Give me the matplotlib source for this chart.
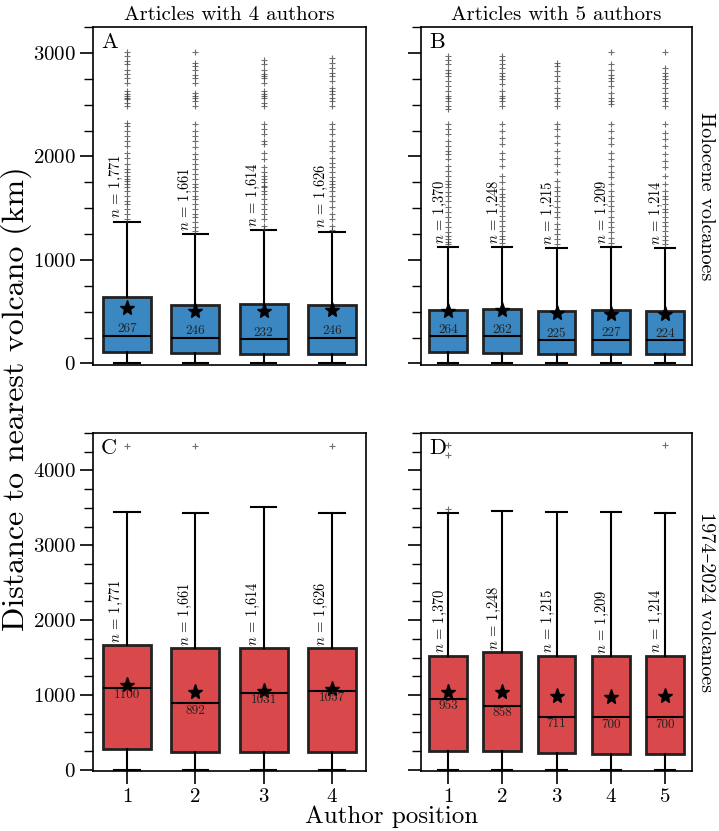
import matplotlib
matplotlib.use("Agg")
import matplotlib.pyplot as plt
from matplotlib.ticker import MultipleLocator

plt.rcParams["font.family"] = ["cmr10", "DejaVu Serif"]
plt.rcParams["mathtext.fontset"] = "cm"
plt.rcParams["axes.formatter.use_mathtext"] = True
plt.rcParams["axes.unicode_minus"] = False

# author positions and sample sizes
pos4 = [1, 2, 3, 4]
pos5 = [1, 2, 3, 4, 5]
n4 = ["1,771", "1,661", "1,614", "1,626"]
n5 = ["1,370", "1,248", "1,215", "1,209", "1,214"]

# Holocene volcanoes, 4 authors
med_h4 = [267, 246, 232, 246]
q1_h4 = [113, 97, 90, 90]
q3_h4 = [639, 565, 577, 565]
mean_h4 = [539, 506, 506, 516]
whi_h4 = [1371, 1252, 1290, 1274]
lo_h4 = [5, 5, 5, 5]
fl_h4 = [
    [3009, 2968, 2926, 2888, 2839, 2798, 2759, 2711, 2631, 2599, 2583, 2567, 2551, 2519, 2487,
     2326, 2294, 2246, 2198, 2150, 2102, 2037, 1989, 1925, 1877, 1845, 1813, 1781, 1765, 1733,
     1701, 1669, 1620, 1572, 1540, 1492, 1444, 1400],
    [3009, 2904, 2871, 2839, 2791, 2759, 2711, 2615, 2583, 2567, 2535, 2487, 2310, 2246, 2198,
     2150, 2086, 2021, 1973, 1925, 1877, 1829, 1781, 1733, 1701, 1669, 1620, 1588, 1540, 1492,
     1444, 1412, 1364, 1316, 1284],
    [2936, 2888, 2839, 2798, 2775, 2759, 2711, 2631, 2599, 2583, 2567, 2519, 2487, 2310, 2262,
     2214, 2150, 2118, 2037, 1973, 1893, 1845, 1813, 1781, 1749, 1717, 1701, 1669, 1636, 1588,
     1540, 1492, 1444, 1396, 1332, 1300],
    [2952, 2904, 2855, 2807, 2775, 2727, 2663, 2631, 2599, 2567, 2535, 2487, 2310, 2262, 2214,
     2150, 2102, 2054, 1989, 1941, 1893, 1845, 1797, 1765, 1733, 1701, 1669, 1620, 1572, 1508,
     1444, 1396, 1332, 1290],
]

# Holocene volcanoes, 5 authors
med_h5 = [264, 262, 225, 227, 224]
q1_h5 = [112, 103, 93, 93, 87]
q3_h5 = [519, 526, 510, 519, 510]
mean_h5 = [503, 513, 487, 481, 481]
whi_h5 = [1128, 1128, 1112, 1128, 1112]
lo_h5 = [5, 5, 5, 5, 5]
fl_h5 = [
    [2968, 2936, 2888, 2839, 2807, 2775, 2727, 2679, 2631, 2583, 2567, 2535, 2487, 2455, 2310,
     2262, 2214, 2150, 2102, 2054, 2021, 1973, 1909, 1861, 1813, 1765, 1733, 1701, 1652, 1620,
     1572, 1508, 1460, 1412, 1364, 1316, 1267, 1235, 1200, 1170, 1150],
    [2968, 2936, 2888, 2855, 2807, 2775, 2743, 2695, 2631, 2583, 2567, 2535, 2487, 2310, 2246,
     2182, 2118, 2037, 1973, 1909, 1813, 1749, 1685, 1636, 1604, 1572, 1524, 1476, 1428, 1380,
     1332, 1284, 1235, 1200, 1160],
    [2904, 2871, 2823, 2775, 2727, 2663, 2615, 2567, 2535, 2487, 2310, 2262, 2198, 2134, 2054,
     1989, 1925, 1845, 1765, 1701, 1669, 1620, 1572, 1508, 1460, 1412, 1348, 1300, 1251, 1200,
     1150],
    [3009, 2888, 2839, 2791, 2759, 2727, 2679, 2615, 2567, 2535, 2503, 2310, 2246, 2182, 2118,
     2037, 1973, 1909, 1845, 1797, 1733, 1669, 1620, 1572, 1524, 1476, 1412, 1364, 1316, 1267,
     1210, 1160],
    [3009, 2855, 2807, 2775, 2743, 2711, 2663, 2615, 2567, 2535, 2487, 2310, 2230, 2166, 2102,
     2021, 1957, 1893, 1813, 1733, 1669, 1620, 1588, 1540, 1492, 1460, 1412, 1364, 1332, 1284,
     1235, 1190, 1150],
]

# 1974-2024 volcanoes, 4 authors
med_r4 = [1100, 892, 1031, 1057]
q1_r4 = [276, 240, 240, 240]
q3_r4 = [1671, 1631, 1631, 1631]
mean_r4 = [1129, 1040, 1053, 1076]
whi_r4 = [3449, 3431, 3511, 3431]
lo_r4 = [5, 5, 5, 5]
fl_r4 = [[4320], [4320], [], [4320]]

# 1974-2024 volcanoes, 5 authors
med_r5 = [953, 858, 711, 700, 700]
q1_r5 = [246, 246, 219, 210, 210]
q3_r5 = [1527, 1571, 1527, 1518, 1527]
mean_r5 = [1036, 1036, 991, 969, 982]
whi_r5 = [3438, 3460, 3446, 3446, 3438]
lo_r5 = [5, 5, 5, 5, 5]
fl_r5 = [[4340, 4205, 3480], [], [], [], [4340]]

blue = "#3a87c2"
red = "#d9484a"


def make_stats(med, q1, q3, mean, whi, lo, fl):
    stats = []
    for i in range(len(med)):
        stats.append(dict(med=med[i], q1=q1[i], q3=q3[i], mean=mean[i],
                          whishi=whi[i], whislo=lo[i], fliers=fl[i]))
    return stats


def draw_panel(ax, stats, pos, ns, color, letter, top_row):
    ax.bxp(stats, positions=pos, widths=0.7, showmeans=True, patch_artist=True,
           boxprops=dict(facecolor=color, edgecolor="#222222", linewidth=2.0),
           medianprops=dict(color="black", linewidth=1.5),
           whiskerprops=dict(color="black", linewidth=1.5),
           capprops=dict(color="black", linewidth=1.5),
           capwidths=0.37,
           meanprops=dict(marker="*", markerfacecolor="black", markeredgecolor="black",
                          markersize=11),
           flierprops=dict(marker="+", markeredgecolor="#333333", alpha=0.7,
                           markersize=5, markeredgewidth=0.8))
    for p, s, n in zip(pos, stats, ns):
        if top_row:
            ax.text(p - 0.15, s["whishi"] + 30, r"$n$ = " + n, rotation=90,
                    ha="center", va="bottom", fontsize=10.5)
            ax.text(p, s["med"] + 5, str(s["med"]), ha="center", va="bottom", fontsize=9.5,
                    color="#222222")
        else:
            ax.text(p - 0.15, s["q3"] + 30, r"$n$ = " + n, rotation=90,
                    ha="center", va="bottom", fontsize=10.5)
            ax.text(p, s["med"] - 20, str(s["med"]), ha="center", va="top", fontsize=9.5,
                    color="#222222")
    ax.text(0.03, 0.985, letter, transform=ax.transAxes, ha="left", va="top", fontsize=16)
    ax.set_xlim(0.5, len(pos) + 0.5)
    ax.set_xticks(pos)
    ax.set_xticklabels([str(p) for p in pos])
    ax.yaxis.set_minor_locator(MultipleLocator(250))
    ax.tick_params(axis="both", which="major", direction="out", length=9.5, width=1.2,
                   labelsize=15, pad=3)
    ax.tick_params(axis="y", which="minor", direction="out", length=6.5, width=1.0)
    for sp in ax.spines.values():
        sp.set_linewidth(1.2)


fig = plt.figure(figsize=(7.19, 8.31), dpi=100)
axA = fig.add_axes([93 / 719, 1 - 365 / 831, 273 / 719, 338 / 831])
axB = fig.add_axes([421 / 719, 1 - 365 / 831, 271 / 719, 338 / 831], sharey=axA)
axC = fig.add_axes([93 / 719, 1 - 771 / 831, 273 / 719, 338 / 831])
axD = fig.add_axes([421 / 719, 1 - 771 / 831, 271 / 719, 338 / 831], sharey=axC)

draw_panel(axA, make_stats(med_h4, q1_h4, q3_h4, mean_h4, whi_h4, lo_h4, fl_h4), pos4, n4,
           blue, "A", True)
draw_panel(axB, make_stats(med_h5, q1_h5, q3_h5, mean_h5, whi_h5, lo_h5, fl_h5), pos5, n5,
           blue, "B", True)
draw_panel(axC, make_stats(med_r4, q1_r4, q3_r4, mean_r4, whi_r4, lo_r4, fl_r4), pos4, n4,
           red, "C", False)
draw_panel(axD, make_stats(med_r5, q1_r5, q3_r5, mean_r5, whi_r5, lo_r5, fl_r5), pos5, n5,
           red, "D", False)

axA.set_ylim(-15, 3250)
axC.set_ylim(-15, 4500)
axA.set_yticks([0, 1000, 2000, 3000])
axC.set_yticks([0, 1000, 2000, 3000, 4000])
for ax in (axB, axD):
    ax.tick_params(axis="y", labelleft=False)
for ax in (axA, axB):
    ax.tick_params(axis="x", bottom=False, labelbottom=False)

axA.set_title("Articles with 4 authors", fontsize=15, pad=5)
axB.set_title("Articles with 5 authors", fontsize=15, pad=5)
fig.text(706 / 719, 1 - 196 / 831, "Holocene volcanoes", rotation=270, ha="center",
         va="center", fontsize=14.5)
fig.text(706 / 719, 1 - 602 / 831, "1974–2024 volcanoes", rotation=270, ha="center",
         va="center", fontsize=14.5)
fig.text(16 / 719, 1 - 399 / 831, "Distance to nearest volcano (km)", rotation=90,
         ha="center", va="center", fontsize=23)
fig.text(392 / 719, 1 - 817 / 831, "Author position", ha="center", va="center", fontsize=18)

fig.savefig("out.png", dpi=100)
